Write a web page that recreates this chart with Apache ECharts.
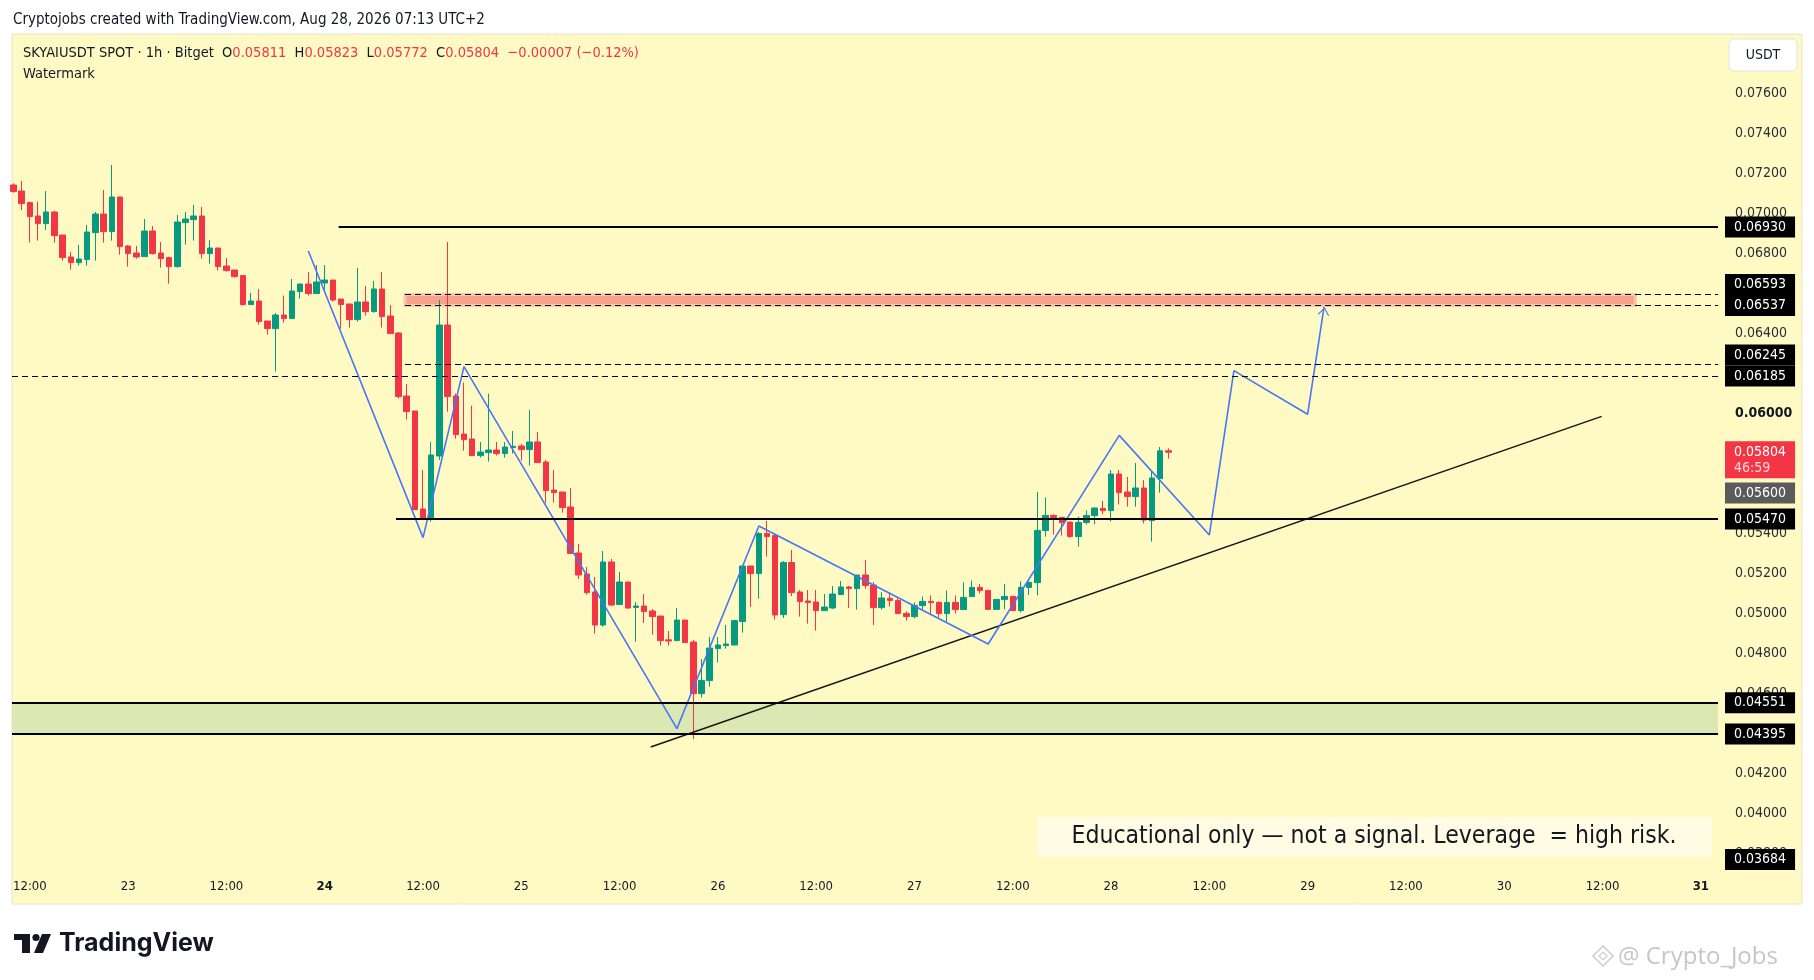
<!DOCTYPE html>
<html>
<head>
<meta charset="utf-8">
<title>SKYAIUSDT 1h</title>
<script src="https://cdn.jsdelivr.net/npm/echarts@6/dist/echarts.min.js"></script>
<style>
html, body { margin: 0; padding: 0; background: #ffffff; }
#chart { width: 1814px; height: 980px; }
</style>
</head>
<body>
<div id="chart"></div>
<script>
var FONT = '"DejaVu Sans Condensed", "Liberation Sans Narrow", sans-serif';

// hours are counted from Aug 22 00:00, first candle is Aug 22 10:00 (1h candles)
var firstHour = 10;
var opens = [
  0.07140,0.07110,0.07052,0.06985,0.06947,0.07005,0.06890,0.06780,0.06752,0.06767,0.06902,0.06995,
  0.06907,0.07080,0.06835,0.06800,0.06782,0.06910,0.06800,0.06777,0.06732,0.06952,0.06967,0.06985,
  0.06797,0.06825,0.06735,0.06715,0.06687,0.06542,0.06560,0.06460,0.06422,0.06490,0.06472,0.06607,
  0.06645,0.06597,0.06650,0.06665,0.06570,0.06545,0.06467,0.06555,0.06507,0.06620,0.06485,0.06400,
  0.06085,0.06010,0.05520,0.05477,0.05785,0.06440,0.06085,0.05895,0.05870,0.05787,0.05802,0.05815,
  0.05797,0.05827,0.05835,0.05817,0.05855,0.05755,0.05615,0.05605,0.05530,0.05300,0.05195,0.05105,
  0.04940,0.05255,0.05042,0.05155,0.05028,0.05035,0.05010,0.04985,0.04866,0.04862,0.04965,0.04855,
  0.04597,0.04662,0.04822,0.04837,0.04840,0.04957,0.05235,0.05197,0.05397,0.05387,0.04992,0.05252,
  0.05105,0.05060,0.05055,0.05012,0.05025,0.05092,0.05130,0.05122,0.05190,0.05140,0.05027,0.05073,
  0.05063,0.04998,0.04982,0.05037,0.05058,0.05053,0.04997,0.05053,0.05017,0.05082,0.05128,0.05113,
  0.05018,0.05067,0.05083,0.05012,0.05128,0.05152,0.05412,0.05488,0.05478,0.05455,0.05382,0.05453,
  0.05487,0.05523,0.05512,0.05695,0.05605,0.05582,0.05625,0.05462,0.05672,0.05811
];
var highs = [
  0.07148,0.07160,0.07057,0.07057,0.07110,0.07010,0.06890,0.06805,0.06840,0.06940,0.07005,0.07115,
  0.07240,0.07080,0.06840,0.06835,0.06970,0.06935,0.06855,0.06782,0.06990,0.07005,0.07040,0.07030,
  0.06865,0.06825,0.06775,0.06715,0.06687,0.06600,0.06620,0.06460,0.06500,0.06587,0.06670,0.06645,
  0.06705,0.06740,0.06740,0.06665,0.06570,0.06545,0.06725,0.06635,0.06660,0.06705,0.06540,0.06405,
  0.06145,0.06010,0.05715,0.05855,0.06565,0.06855,0.06097,0.06152,0.06037,0.05855,0.06097,0.05855,
  0.05855,0.05910,0.05845,0.06015,0.05905,0.05765,0.05715,0.05605,0.05625,0.05345,0.05230,0.05180,
  0.05310,0.05270,0.05205,0.05155,0.05055,0.05095,0.05020,0.04985,0.04910,0.05025,0.04965,0.04865,
  0.04770,0.04880,0.04880,0.04940,0.04967,0.05235,0.05235,0.05405,0.05460,0.05397,0.05260,0.05315,
  0.05115,0.05115,0.05115,0.05095,0.05135,0.05160,0.05135,0.05190,0.05265,0.05155,0.05105,0.05103,
  0.05073,0.05008,0.05053,0.05083,0.05088,0.05058,0.05113,0.05088,0.05153,0.05163,0.05145,0.05113,
  0.05068,0.05145,0.05083,0.05158,0.05158,0.05605,0.05578,0.05493,0.05478,0.05455,0.05482,0.05513,
  0.05528,0.05560,0.05715,0.05715,0.05680,0.05750,0.05665,0.05705,0.05830,0.05823
];
var lows = [
  0.07102,0.07015,0.06852,0.06862,0.06915,0.06852,0.06762,0.06717,0.06737,0.06737,0.06762,0.06852,
  0.06862,0.06792,0.06732,0.06772,0.06782,0.06792,0.06727,0.06647,0.06727,0.06842,0.06862,0.06772,
  0.06747,0.06712,0.06707,0.06677,0.06537,0.06542,0.06442,0.06392,0.06207,0.06452,0.06472,0.06572,
  0.06587,0.06597,0.06610,0.06557,0.06422,0.06427,0.06457,0.06487,0.06502,0.06427,0.06397,0.06072,
  0.05967,0.05517,0.05472,0.05457,0.05765,0.06007,0.05872,0.05812,0.05787,0.05777,0.05757,0.05787,
  0.05777,0.05797,0.05762,0.05737,0.05752,0.05548,0.05552,0.05502,0.05298,0.05170,0.05092,0.04897,
  0.04932,0.05035,0.05042,0.05020,0.04857,0.04950,0.04892,0.04837,0.04837,0.04862,0.04852,0.04370,
  0.04577,0.04632,0.04752,0.04822,0.04840,0.04902,0.05030,0.05072,0.05282,0.04967,0.04975,0.05085,
  0.04982,0.04947,0.04912,0.05012,0.05020,0.05092,0.05025,0.05017,0.05122,0.04940,0.05017,0.05033,
  0.04997,0.04962,0.04973,0.05015,0.04998,0.04977,0.04953,0.04998,0.05017,0.05082,0.05098,0.05018,
  0.05018,0.05018,0.05012,0.05003,0.05090,0.05088,0.05382,0.05392,0.05387,0.05377,0.05332,0.05443,
  0.05443,0.05493,0.05458,0.05543,0.05532,0.05532,0.05448,0.05357,0.05602,0.05772
];
var closes = [
  0.07107,0.07047,0.06982,0.06947,0.07005,0.06887,0.06777,0.06752,0.06770,0.06905,0.06995,0.06907,
  0.07080,0.06832,0.06797,0.06780,0.06910,0.06797,0.06772,0.06732,0.06955,0.06970,0.06985,0.06797,
  0.06825,0.06732,0.06712,0.06682,0.06542,0.06560,0.06457,0.06422,0.06490,0.06472,0.06610,0.06645,
  0.06597,0.06655,0.06665,0.06565,0.06542,0.06467,0.06555,0.06507,0.06620,0.06482,0.06397,0.06082,
  0.06007,0.05517,0.05472,0.05790,0.06440,0.06082,0.05892,0.05867,0.05787,0.05805,0.05815,0.05797,
  0.05830,0.05833,0.05817,0.05855,0.05752,0.05612,0.05602,0.05527,0.05298,0.05190,0.05102,0.04940,
  0.05255,0.05040,0.05155,0.05025,0.05035,0.05007,0.04982,0.04862,0.04860,0.04965,0.04852,0.04597,
  0.04663,0.04825,0.04840,0.04845,0.04962,0.05235,0.05197,0.05397,0.05382,0.04990,0.05252,0.05102,
  0.05057,0.05052,0.05012,0.05030,0.05095,0.05130,0.05123,0.05190,0.05138,0.05027,0.05075,0.05063,
  0.04997,0.04982,0.05038,0.05058,0.05052,0.04997,0.05053,0.05017,0.05078,0.05128,0.05112,0.05018,
  0.05068,0.05083,0.05012,0.05128,0.05153,0.05413,0.05488,0.05478,0.05452,0.05382,0.05453,0.05488,
  0.05525,0.05512,0.05695,0.05602,0.05582,0.05625,0.05465,0.05675,0.05811,0.05804
];

// axis ticks
var timeTicks = [12,24,36,48,60,72,84,96,108,120,132,144,156,168,180,192,204,216];
var weekStarts = [24, 31];
var priceTicks = [0.038,0.040,0.042,0.044,0.046,0.048,0.050,0.052,0.054,0.056,0.058,
                  0.060,0.062,0.064,0.066,0.068,0.070,0.072,0.074,0.076];
var boldTick = 0.060;

// drawings
var pathHours  = [46, 60, 65, 91, 101, 129, 145, 156, 159, 168, 170];
var pathPrices = [0.0681, 0.05377, 0.06232, 0.04422, 0.05435, 0.04845, 0.05888, 0.0539, 0.06212, 0.05994, 0.06529];
var trendHours  = [87.8, 203.9];
var trendPrices = [0.0433, 0.05983];

var levelPrices = [0.0693, 0.06593, 0.06537, 0.06245, 0.06185, 0.0547, 0.04551, 0.04395];
var levelFrom   = [49.7, 57.8, 57.8, 57.8, null, 56.7, null, null];
var levelDashed = [false, true, true, true, true, false, false, false];

var supplyZone = [0.06537, 0.06593];
var supplyHours = [57.8, 208];
var demandZone = [0.04395, 0.04551];

var countdown = '46:59';
var markPrice = 0.056;
var lowTag = 0.03684;

var xMin = 9.82, xMax = 218.1;
var yMin = 0.03715, yMax = 0.0789;

var UP = '#089981', DOWN = '#f23645', INK = '#131722';

var candles = opens.map(function (o, i) {
  return [firstHour + i, o, closes[i], lows[i], highs[i]];
});

function timeLabel(h) {
  if (h % 24 === 0) {
    var d = 22 + h / 24;
    return weekStarts.indexOf(d) >= 0 ? '{b|' + d + '}' : String(d);
  }
  var hh = h % 24;
  return (hh < 10 ? '0' : '') + hh + ':00';
}

var levelLines = levelPrices.map(function (p, i) {
  var dashed = levelDashed[i];
  return [
    { coord: [levelFrom[i] == null ? xMin : levelFrom[i], p],
      lineStyle: { color: '#000', width: dashed ? 1 : 2, type: dashed ? [6, 4] : 'solid' } },
    { coord: [xMax, p] }
  ];
});

var chart = echarts.init(document.getElementById('chart'));
chart.setOption({
  animation: false,
  backgroundColor: '#ffffff',
  grid: { left: 12, right: 96, top: 35, bottom: 110 },
  xAxis: {
    type: 'value', min: xMin, max: xMax,
    axisLine: { show: false }, axisTick: { show: false }, splitLine: { show: false },
    axisLabel: {
      customValues: timeTicks, formatter: timeLabel, margin: 10,
      color: INK, fontFamily: FONT, fontSize: 13,
      rich: { b: { fontWeight: 'bold', color: INK, fontFamily: FONT, fontSize: 13 } }
    }
  },
  yAxis: {
    type: 'value', position: 'right', min: yMin, max: yMax, scale: true,
    axisLine: { show: false }, axisTick: { show: false }, splitLine: { show: false },
    axisLabel: {
      customValues: priceTicks, margin: 17, color: '#2a2e39', fontFamily: FONT, fontSize: 14,
      formatter: function (v) {
        var s = v.toFixed(5);
        return Math.abs(v - boldTick) < 1e-9 ? '{b|' + s + '}' : s;
      },
      rich: { b: { fontWeight: 'bold', color: '#131722', fontFamily: FONT, fontSize: 14 } }
    }
  },
  series: [
    {
      type: 'candlestick',
      data: candles,
      barWidth: 6,
      z: 2,
      itemStyle: { color: UP, color0: DOWN, borderColor: UP, borderColor0: DOWN, borderWidth: 1 }
    },
    {
      type: 'line',
      data: trendHours.map(function (h, i) { return [h, trendPrices[i]]; }),
      symbol: 'none', z: 4, silent: true,
      lineStyle: { color: '#161616', width: 1.5 },
      markArea: {
        silent: true,
        data: [
          [{ coord: [supplyHours[0], supplyZone[1]],
             itemStyle: { color: '#f8a28c', borderColor: '#fbc6a8', borderWidth: 3 } },
           { coord: [supplyHours[1], supplyZone[0]] }],
          [{ coord: [xMin, demandZone[1]], itemStyle: { color: '#dce8b3' } },
           { coord: [xMax, demandZone[0]] }]
        ]
      },
      markLine: {
        silent: true, symbol: 'none', label: { show: false },
        data: levelLines
      }
    },
    {
      type: 'line',
      data: pathHours.map(function (h, i) { return [h, pathPrices[i]]; }),
      symbol: 'none', z: 4, silent: true,
      lineStyle: { color: '#4677f5', width: 1.6 },
      markPoint: {
        silent: true,
        data: [{
          coord: [pathHours[pathHours.length - 1], pathPrices[pathPrices.length - 1]],
          symbol: 'path://M0,12 L6,0 L12,12 L10.6,12 L6,2.8 L1.4,12 Z',
          symbolSize: [12, 8], symbolOffset: [0, 4], symbolRotate: -9,
          itemStyle: { color: '#4677f5' }, label: { show: false }
        }]
      }
    }
  ]
});

// header change figures from the last two closes
var last = closes.length - 1;
var change = closes[last] - closes[last - 1];
var changePct = change / closes[last - 1] * 100;
function signed(v, d) { return (v < 0 ? '−' : '+') + Math.abs(v).toFixed(d); }

var plotBottom = chart.convertToPixel({ yAxisIndex: 0 }, yMin);
var graphics = [
  { type: 'rect', z: -10, silent: true, shape: { x: 12, y: 34, width: 1790, height: 870 },
    style: { fill: '#fff9c4', stroke: '#e6e4d0', lineWidth: 1 } },
  { type: 'text', z: 10, x: 13, y: 20,
    style: { text: 'Cryptojobs created with TradingView.com, Aug 28, 2026 07:13 UTC+2',
             font: '15px ' + FONT, fill: INK, verticalAlign: 'middle' } },
  { type: 'text', z: 10, x: 23, y: 53,
    style: {
      text: '{k|SKYAIUSDT SPOT · 1h · Bitget  O}{r|' + opens[last].toFixed(5) + '}{k|  H}{r|' +
            highs[last].toFixed(5) + '}{k|  L}{r|' + lows[last].toFixed(5) + '}{k|  C}{r|' +
            closes[last].toFixed(5) + '  ' + signed(change, 5) + ' (' + signed(changePct, 2) + '%)}',
      verticalAlign: 'middle',
      rich: { k: { fill: INK, font: '14.5px ' + FONT }, r: { fill: DOWN, font: '14.5px ' + FONT } }
    } },
  { type: 'text', z: 10, x: 23, y: 74,
    style: { text: 'Watermark', font: '14.5px ' + FONT, fill: INK, verticalAlign: 'middle' } },
  { type: 'rect', z: 10, shape: { x: 1729, y: 39, width: 68, height: 32, r: 5 },
    style: { fill: '#ffffff', stroke: '#e3e3e3', lineWidth: 1 } },
  { type: 'text', z: 11, x: 1763, y: 55,
    style: { text: 'USDT', font: '14px ' + FONT, fill: INK, align: 'center', verticalAlign: 'middle' } },
  { type: 'rect', z: 10, shape: { x: 1037, y: 817, width: 675, height: 40 },
    style: { fill: '#fffce3' } },
  { type: 'text', z: 11, x: 1374, y: 837,
    style: { text: 'Educational only — not a signal. Leverage  = high risk.',
             font: '24.5px ' + FONT, fill: INK, align: 'center', verticalAlign: 'middle' } },
  // TradingView logo
  { type: 'rect', z: 10, shape: { x: 14, y: 934, width: 16, height: 6 }, style: { fill: '#131722' } },
  { type: 'rect', z: 10, shape: { x: 22, y: 934, width: 8, height: 19 }, style: { fill: '#131722' } },
  { type: 'circle', z: 10, shape: { cx: 36, cy: 937.5, r: 3.6 }, style: { fill: '#131722' } },
  { type: 'polygon', z: 10, shape: { points: [[42, 934], [51, 934], [43, 953], [34, 953]] }, style: { fill: '#131722' } },
  { type: 'text', z: 10, x: 59, y: 943,
    style: { text: 'TradingView', font: 'bold 25px Inter, "Noto Sans", sans-serif', fill: '#131722', verticalAlign: 'middle' } },
  // watermark
  { type: 'polygon', z: 10, shape: { points: [[1603, 946], [1613, 956], [1603, 966], [1593, 956]] },
    style: { fill: 'none', stroke: '#cccccc', lineWidth: 1.5 } },
  { type: 'polygon', z: 10, shape: { points: [[1603, 952], [1607, 956], [1603, 960], [1599, 956]] },
    style: { fill: 'none', stroke: '#cccccc', lineWidth: 1.2 } },
  { type: 'text', z: 10, x: 1618, y: 957,
    style: { text: '@ Crypto_Jobs', font: '24px "Open Sans", sans-serif', fill: '#c6c6c6', verticalAlign: 'middle' } }
];

// price tags on the scale; overlapping tags are pushed upwards like TradingView does
var TAG_H = 21;
var tags = [];
levelPrices.forEach(function (p) { tags.push({ price: p, bg: '#000000', h: TAG_H, dy: TAG_H / 2 }); });
tags.push({ price: markPrice, bg: '#5b5b5b', h: TAG_H, dy: TAG_H / 2 });
tags.push({ price: Math.max(lowTag, yMin), text: lowTag.toFixed(5), bg: '#000000', h: TAG_H, dy: TAG_H / 2, bottom: true });
tags.push({ price: closes[last], bg: DOWN, h: 37, dy: 11, live: true });

tags.forEach(function (t) {
  var y = chart.convertToPixel({ yAxisIndex: 0 }, t.price);
  t.top = y - t.dy;
  if (t.bottom) t.top = Math.min(t.top, plotBottom - t.h);
});
tags.sort(function (a, b) { return b.top - a.top; });
var limit = Infinity;
tags.forEach(function (t) {
  if (t.top + t.h > limit) t.top = limit - t.h;
  limit = t.top;
  if (t.live) {
    graphics.push({ type: 'text', z: 21, x: 1725, y: t.top,
      style: { text: '{a|' + t.price.toFixed(5) + '}\n{c|' + countdown + '}',
               backgroundColor: t.bg, padding: [3, 9, 2, 9], verticalAlign: 'top',
               rich: { a: { fill: '#ffffff', font: '14px ' + FONT, lineHeight: 16 },
                       c: { fill: '#ffd6da', font: '14px ' + FONT, lineHeight: 16 } } } });
  } else {
    graphics.push({ type: 'text', z: 20, x: 1725, y: t.top,
      style: { text: t.text || t.price.toFixed(5), font: '14px ' + FONT, fill: '#ffffff',
               backgroundColor: t.bg, padding: [3, 9, 3, 9], lineHeight: 15, verticalAlign: 'top' } });
  }
});

chart.setOption({ graphic: graphics });
</script>
</body>
</html>
